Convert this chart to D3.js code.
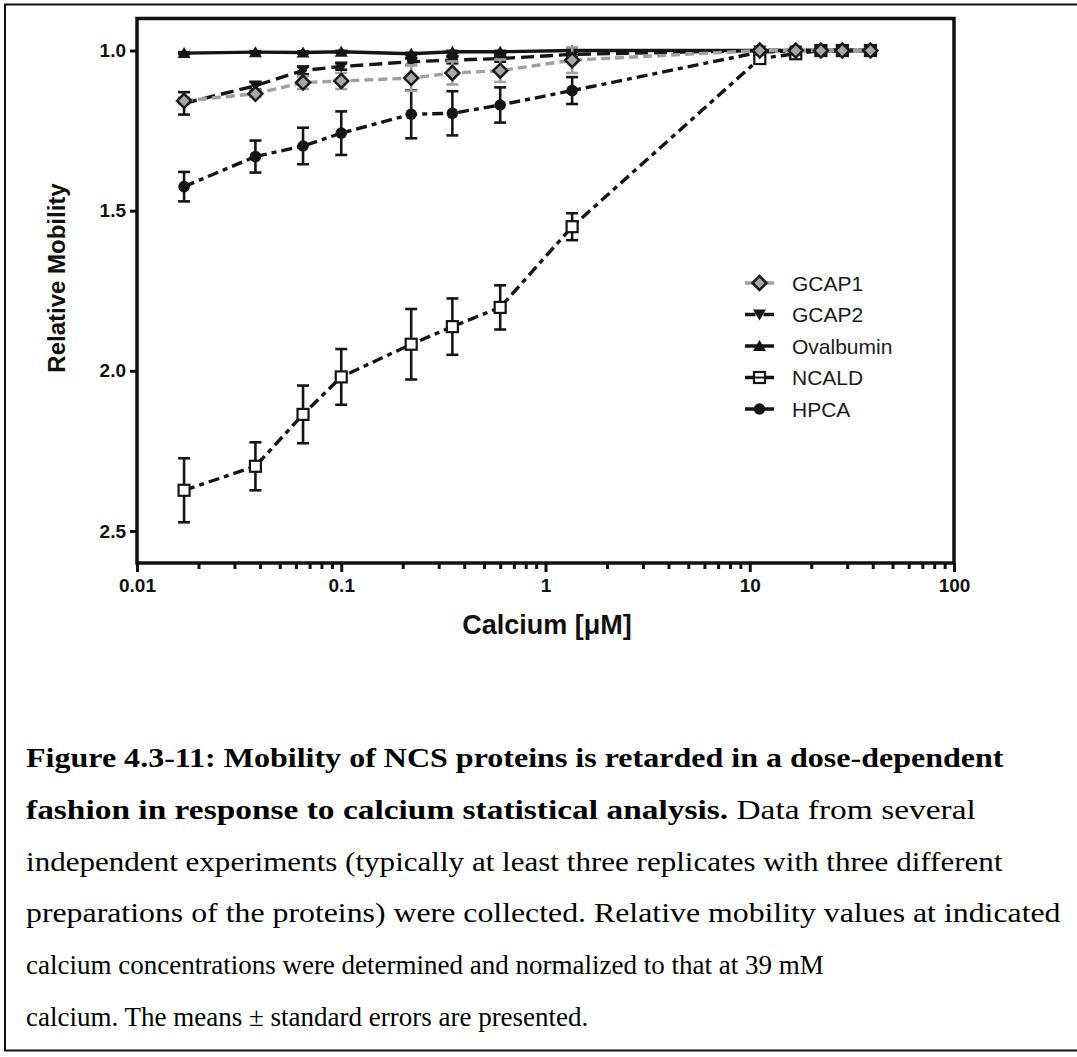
<!DOCTYPE html>
<html>
<head>
<meta charset="utf-8">
<script src="https://cdn.jsdelivr.net/npm/d3@7"></script>
<style>
  html, body { margin: 0; padding: 0; background: #fff; }
  svg { display: block; }
</style>
</head>
<body>
<svg id="chart" width="1077" height="1057"></svg>
<script>
// Calcium concentrations (µM) at which mobility was measured
const concentrations = [0.017, 0.038, 0.065, 0.1, 0.22, 0.35, 0.6, 1.35, 11.2, 16.8, 22.3, 28.4, 39];

// Relative mobility (mean) and standard error for each protein
const gcap1      = [1.157, 1.135, 1.100, 1.095, 1.086, 1.070, 1.063, 1.030, 1.000, 1.000, 1.000, 1.000, 1.000];
const gcap1Err   = [0.010, 0.010, 0.020, 0.025, 0.040, 0.036, 0.035, 0.040, 0.005, 0.005, 0.005, 0.005, 0.005];
const gcap2      = [1.165, 1.110, 1.062, 1.050, 1.035, 1.030, 1.025, 1.012, 1.000, 1.000, 1.000, 1.000, 1.000];
const gcap2Err   = [0.035, 0.012, 0.012, 0.010, 0.010, 0.010, 0.010, 0.008, 0.004, 0.004, 0.004, 0.004, 0.004];
const ovalbumin  = [1.008, 1.005, 1.006, 1.004, 1.010, 1.004, 1.004, 1.000, 1.000, 1.000, 1.000, 1.000, 1.000];
const ovalErr    = [0.003, 0.003, 0.003, 0.003, 0.003, 0.003, 0.003, 0.003, 0.002, 0.002, 0.002, 0.002, 0.002];
const ncald      = [2.373, 2.298, 2.136, 2.019, 1.917, 1.862, 1.802, 1.550, 1.025, 1.010, 1.000, 1.000, 1.000];
const ncaldErr   = [0.100, 0.075, 0.090, 0.087, 0.110, 0.088, 0.069, 0.042, 0.010, 0.010, 0.005, 0.005, 0.005];
const hpca       = [1.425, 1.331, 1.298, 1.258, 1.199, 1.196, 1.170, 1.125, 1.005, 1.000, 1.000, 1.000, 1.000];
const hpcaErr    = [0.046, 0.050, 0.057, 0.068, 0.075, 0.069, 0.055, 0.042, 0.005, 0.005, 0.005, 0.005, 0.005];

const seriesNames = ["GCAP1", "GCAP2", "Ovalbumin", "NCALD", "HPCA"];
const yTicks = [1.0, 1.5, 2.0, 2.5];
const xMajorTicks = [0.01, 0.1, 1, 10, 100];

const captionLines = [
  [{t: "Figure 4.3-11: Mobility of NCS proteins is retarded in a dose-dependent", b: true}],
  [{t: "fashion in response to calcium statistical analysis.", b: true}, {t: " Data from several", b: false}],
  [{t: "independent experiments (typically at least three replicates with three different", b: false}],
  [{t: "preparations of the proteins) were collected. Relative mobility values at indicated", b: false}],
  [{t: "calcium concentrations were determined and normalized to that at 39 mM", b: false}],
  [{t: "calcium. The means \u00B1 standard errors are presented.", b: false}]
];

const series = [
  {name: "GCAP1", values: gcap1, err: gcap1Err, color: "#a39ea0", errColor: "#a39ea0", dash: "9,5", marker: "diamond"},
  {name: "GCAP2", values: gcap2, err: gcap2Err, color: "#151515", errColor: "#151515", dash: "13,6", marker: "triangleDown"},
  {name: "Ovalbumin", values: ovalbumin, err: ovalErr, color: "#151515", errColor: "#151515", dash: null, marker: "triangleUp"},
  {name: "NCALD", values: ncald, err: ncaldErr, color: "#151515", errColor: "#151515", dash: "11,5,5,5", marker: "square"},
  {name: "HPCA", values: hpca, err: hpcaErr, color: "#151515", errColor: "#151515", dash: "11,5,5,5", marker: "circle"}
];

const svg = d3.select("#chart");
const sans = "'Liberation Sans', Arial, Helvetica, sans-serif";
const serif = "'Liberation Serif', 'Times New Roman', serif";

// Outer figure frame
svg.append("rect")
  .attr("x", 5).attr("y", 4.5).attr("width", 1090).attr("height", 1046)
  .attr("fill", "none").attr("stroke", "#111").attr("stroke-width", 2);

const plot = {left: 137, right: 954, top: 18.5, bottom: 563};

const x = d3.scaleLog().domain([0.01, 100]).range([plot.left, plot.right]);
const y = d3.scaleLinear().domain([0.9, 2.6]).range([plot.top, plot.bottom]);

// Minor x ticks (2..9 within each decade)
const xMinorTicks = [];
for (let d = 0.01; d < 100; d *= 10) {
  for (let k = 2; k <= 9; k++) xMinorTicks.push(+(d * k).toPrecision(3));
}

const xMinorAxis = svg.append("g")
  .attr("transform", `translate(0,${plot.bottom})`)
  .call(d3.axisBottom(x).tickValues(xMinorTicks).tickSize(6).tickFormat(""));
xMinorAxis.select(".domain").remove();
xMinorAxis.selectAll("line").attr("stroke", "#111").attr("stroke-width", 3);

const xMajorAxis = svg.append("g")
  .attr("transform", `translate(0,${plot.bottom})`)
  .call(d3.axisBottom(x).tickValues(xMajorTicks).tickSize(9).tickPadding(7).tickFormat(d3.format("~g")));
xMajorAxis.select(".domain").remove();
xMajorAxis.selectAll("line").attr("stroke", "#111").attr("stroke-width", 3);
xMajorAxis.selectAll("text")
  .attr("fill", "#111").style("font-family", sans).style("font-size", "19px").style("font-weight", "bold");

const yAxis = svg.append("g")
  .attr("transform", `translate(${plot.left},0)`)
  .call(d3.axisLeft(y).tickValues(yTicks).tickSize(7).tickPadding(4).tickFormat(d3.format(".1f")));
yAxis.select(".domain").remove();
yAxis.selectAll("line").attr("stroke", "#111").attr("stroke-width", 3);
yAxis.selectAll("text")
  .attr("fill", "#111").style("font-family", sans).style("font-size", "19px").style("font-weight", "bold");

// Plot frame
svg.append("rect")
  .attr("x", plot.left).attr("y", plot.top)
  .attr("width", plot.right - plot.left).attr("height", plot.bottom - plot.top)
  .attr("fill", "none").attr("stroke", "#111").attr("stroke-width", 3.5);

// Axis titles
svg.append("text")
  .attr("transform", "translate(65,278) rotate(-90)")
  .attr("text-anchor", "middle")
  .style("font-family", sans).style("font-size", "24px").style("font-weight", "bold")
  .attr("fill", "#111")
  .text("Relative Mobility");

svg.append("text")
  .attr("x", 547).attr("y", 634)
  .attr("text-anchor", "middle")
  .style("font-family", sans).style("font-size", "27px").style("font-weight", "bold")
  .attr("fill", "#111")
  .text("Calcium [\u03BCM]");

// Marker drawing
function drawMarker(g, type, cx, cy, color) {
  if (type === "diamond") {
    const r = 7;
    g.append("path")
      .attr("d", `M${cx},${cy - r}L${cx + r},${cy}L${cx},${cy + r}L${cx - r},${cy}Z`)
      .attr("fill", "#aaa5a7").attr("stroke", "#1a1a1a").attr("stroke-width", 2.5);
  } else if (type === "triangleDown") {
    g.append("path")
      .attr("d", `M${cx - 6.5},${cy - 5}L${cx + 6.5},${cy - 5}L${cx},${cy + 6}Z`)
      .attr("fill", color);
  } else if (type === "triangleUp") {
    g.append("path")
      .attr("d", `M${cx - 6.5},${cy + 5}L${cx + 6.5},${cy + 5}L${cx},${cy - 6}Z`)
      .attr("fill", color);
  } else if (type === "square") {
    g.append("rect")
      .attr("x", cx - 5.5).attr("y", cy - 5.5).attr("width", 11).attr("height", 11)
      .attr("fill", "#fff").attr("stroke", color).attr("stroke-width", 2.2);
  } else if (type === "circle") {
    g.append("circle").attr("cx", cx).attr("cy", cy).attr("r", 5.8).attr("fill", color);
  }
}

const line = d3.line().x(d => x(d.c)).y(d => y(d.v));

// Series drawn bottom to top
const drawOrder = ["HPCA", "NCALD", "Ovalbumin", "GCAP2", "GCAP1"];
drawOrder.forEach(name => {
  const s = series.find(e => e.name === name);
  const pts = concentrations.map((c, i) => ({c, v: s.values[i], e: s.err[i]}));
  const g = svg.append("g");

  g.append("path")
    .datum(pts)
    .attr("d", line)
    .attr("fill", "none")
    .attr("stroke", s.color)
    .attr("stroke-width", 3.4)
    .attr("stroke-dasharray", s.dash);

  // Error bars
  pts.forEach(p => {
    const px = x(p.c), y0 = y(p.v - p.e), y1 = y(p.v + p.e);
    g.append("line").attr("x1", px).attr("x2", px).attr("y1", y0).attr("y2", y1)
      .attr("stroke", s.errColor).attr("stroke-width", 2.6);
    [y0, y1].forEach(yy => {
      g.append("line").attr("x1", px - 6).attr("x2", px + 6).attr("y1", yy).attr("y2", yy)
        .attr("stroke", s.errColor).attr("stroke-width", 2.6);
    });
  });

  pts.forEach(p => drawMarker(g, s.marker, x(p.c), y(p.v), "#151515"));
});

// Legend
const legend = svg.append("g");
const legendX = 745, legendLen = 29, legendY0 = 283, legendStep = 31.5;
seriesNames.forEach((name, i) => {
  const s = series.find(e => e.name === name);
  const ly = legendY0 + i * legendStep;
  const cx = legendX + legendLen / 2;
  if (s.dash && s.name !== "GCAP1") {
    [[legendX, cx - 4], [cx + 4, legendX + legendLen]].forEach(([a, b]) => {
      legend.append("line").attr("x1", a).attr("x2", b).attr("y1", ly).attr("y2", ly)
        .attr("stroke", s.color).attr("stroke-width", 3.5);
    });
  } else {
    legend.append("line").attr("x1", legendX).attr("x2", legendX + legendLen)
      .attr("y1", ly).attr("y2", ly).attr("stroke", s.color).attr("stroke-width", 3.5);
  }
  drawMarker(legend, s.marker, cx, ly, "#151515");
  if (s.marker === "square") {
    legend.append("line").attr("x1", cx - 5.5).attr("x2", cx + 5.5).attr("y1", ly).attr("y2", ly)
      .attr("stroke", "#151515").attr("stroke-width", 2);
  }
  legend.append("text")
    .attr("x", 792).attr("y", ly).attr("dy", "0.36em")
    .style("font-family", sans).style("font-size", "21px")
    .attr("fill", "#1a1a1a")
    .text(name);
});

// Caption: the first lines of the paragraph are set wider, out to their line end
const caption = svg.append("g");
const capLeft = 26;
const capBaselines = [767, 819, 871, 922, 974, 1026];
const capLineEnds = [1004, 976, 1003, 1061, null, null];
captionLines.forEach((parts, i) => {
  const t = caption.append("text")
    .attr("transform", `translate(${capLeft},${capBaselines[i]})`)
    .style("font-family", serif).style("font-size", "27px")
    .attr("fill", "#000");
  parts.forEach(p => {
    t.append("tspan").style("font-weight", p.b ? "bold" : "normal").text(p.t);
  });
  if (capLineEnds[i] !== null) {
    const natural = t.node().getComputedTextLength();
    const sx = (capLineEnds[i] - capLeft) / natural;
    if (sx > 1) t.attr("transform", `translate(${capLeft},${capBaselines[i]}) scale(${sx},1)`);
  }
});
</script>
</body>
</html>
